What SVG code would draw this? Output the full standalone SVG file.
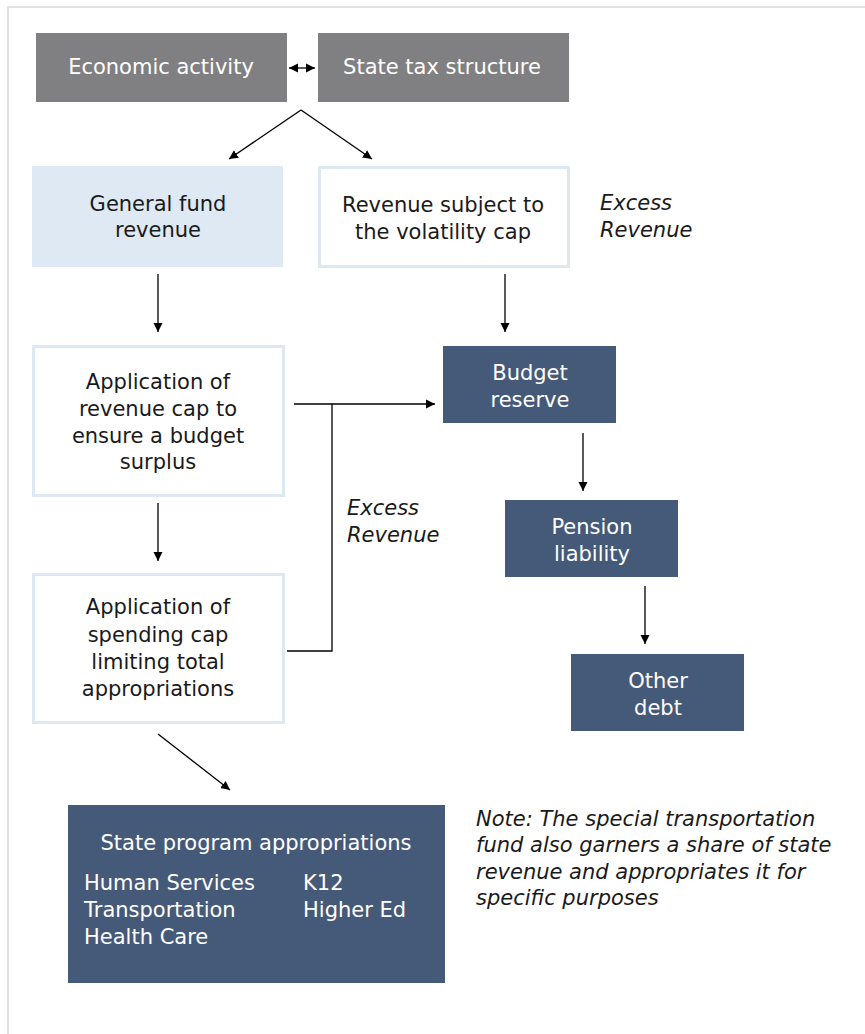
<svg xmlns="http://www.w3.org/2000/svg" width="865" height="1034" viewBox="0 0 865 1034">
<style>
text{font-family:"DejaVu Sans","Open Sans",sans-serif;font-size:21px;}
.w{fill:#ffffff;}
.k{fill:#1a1a1a;}
.c{text-anchor:middle;}
.i{font-style:italic;}
.gray{fill:#808083;}
.dark{fill:#455a78;}
.lb{fill:#dfe9f3;}
.ob{fill:#ffffff;stroke:#dde8f3;stroke-width:3;}
.ln{fill:none;stroke:#000;stroke-width:1.3;}
</style>
<defs>
<marker id="ah" viewBox="0 0 10 10" refX="10" refY="5" markerWidth="9" markerHeight="10" markerUnits="userSpaceOnUse" orient="auto-start-reverse">
<path d="M0,0 L10,5 L0,10 z" fill="#000"/>
</marker>
</defs>
<rect width="865" height="1034" fill="#ffffff"/>
<path d="M8,1034 V7 H865" fill="none" stroke="#e2e2e2" stroke-width="2"/>

<g id="connectors">
<line class="ln" x1="289" y1="68" x2="315" y2="68" marker-start="url(#ah)" marker-end="url(#ah)"/>
<line class="ln" x1="301" y1="110" x2="229" y2="159" marker-end="url(#ah)"/>
<line class="ln" x1="301" y1="110" x2="372" y2="159" marker-end="url(#ah)"/>
<line class="ln" x1="158" y1="274" x2="158" y2="332" marker-end="url(#ah)"/>
<line class="ln" x1="505" y1="274" x2="505" y2="332" marker-end="url(#ah)"/>
<line class="ln" x1="294" y1="404" x2="435" y2="404" marker-end="url(#ah)"/>
<polyline class="ln" points="332,404 332,651 287,651"/>
<line class="ln" x1="158" y1="503" x2="158" y2="561" marker-end="url(#ah)"/>
<line class="ln" x1="583" y1="433" x2="583" y2="491" marker-end="url(#ah)"/>
<line class="ln" x1="645" y1="586" x2="645" y2="644" marker-end="url(#ah)"/>
<line class="ln" x1="158" y1="734" x2="230" y2="790" marker-end="url(#ah)"/>
</g>

<g id="economic-activity">
<rect class="gray" x="36" y="33" width="251" height="69"/>
<text class="w c" x="161" y="74">Economic activity</text>
</g>
<g id="state-tax-structure">
<rect class="gray" x="318" y="33" width="251" height="69"/>
<text class="w c" x="442" y="74">State tax structure</text>
</g>

<g id="general-fund-revenue">
<rect class="lb" x="32" y="166" width="251" height="101"/>
<text class="k c" x="158" y="211">General fund</text>
<text class="k c" x="158" y="237">revenue</text>
</g>
<g id="revenue-volatility-cap">
<rect class="ob" x="319.5" y="167.5" width="249" height="99"/>
<text class="k c" x="443" y="212">Revenue subject to</text>
<text class="k c" x="443" y="239">the volatility cap</text>
</g>
<g id="excess-revenue-top">
<text class="k i" x="600" y="210">Excess</text>
<text class="k i" x="600" y="237">Revenue</text>
</g>

<g id="revenue-cap">
<rect class="ob" x="33.5" y="346.5" width="250" height="149"/>
<text class="k c" x="158" y="389">Application of</text>
<text class="k c" x="158" y="416">revenue cap to</text>
<text class="k c" x="158" y="443">ensure a budget</text>
<text class="k c" x="158" y="469">surplus</text>
</g>

<g id="budget-reserve">
<rect class="dark" x="443" y="346" width="173" height="77"/>
<text class="w c" x="530" y="380">Budget</text>
<text class="w c" x="530" y="407">reserve</text>
</g>

<g id="excess-revenue-mid">
<text class="k i" x="347" y="515">Excess</text>
<text class="k i" x="347" y="542">Revenue</text>
</g>

<g id="pension-liability">
<rect class="dark" x="505" y="500" width="173" height="77"/>
<text class="w c" x="592" y="534">Pension</text>
<text class="w c" x="592" y="561">liability</text>
</g>

<g id="spending-cap">
<rect class="ob" x="33.5" y="574.5" width="250" height="148"/>
<text class="k c" x="158" y="614">Application of</text>
<text class="k c" x="158" y="642">spending cap</text>
<text class="k c" x="158" y="669">limiting total</text>
<text class="k c" x="158" y="696">appropriations</text>
</g>

<g id="other-debt">
<rect class="dark" x="571" y="654" width="173" height="77"/>
<text class="w c" x="658" y="688">Other</text>
<text class="w c" x="658" y="715">debt</text>
</g>

<g id="state-program-appropriations">
<rect class="dark" x="68" y="805" width="377" height="178"/>
<text class="w c" x="256" y="850">State program appropriations</text>
<text class="w" x="84" y="890">Human Services</text>
<text class="w" x="84" y="917">Transportation</text>
<text class="w" x="84" y="944">Health Care</text>
<text class="w" x="303" y="890">K12</text>
<text class="w" x="303" y="917">Higher Ed</text>
</g>

<g id="note">
<text class="k i" x="476" y="826">Note: The special transportation</text>
<text class="k i" x="476" y="852">fund also garners a share of state</text>
<text class="k i" x="476" y="879">revenue and appropriates it for</text>
<text class="k i" x="476" y="905">specific purposes</text>
</g>
</svg>
